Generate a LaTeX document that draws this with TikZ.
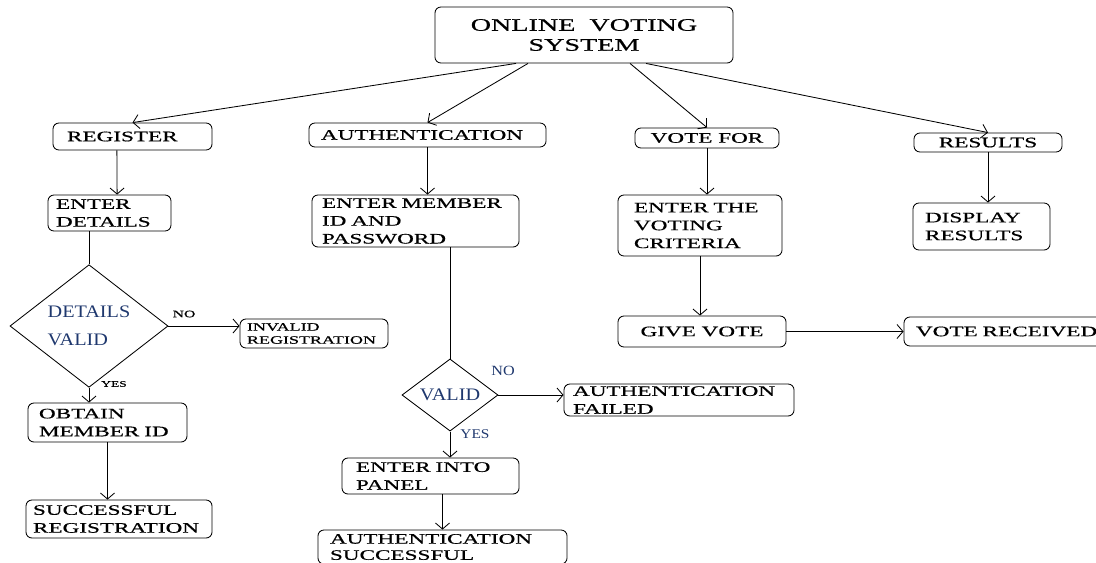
\documentclass[tikz,border=0pt]{standalone}
\usepackage{fontspec}
\usepackage{tikz}
\usetikzlibrary{arrows.meta, shapes.geometric}

\newfontfamily\boxfont{Liberation Serif}[FakeStretch=1.6, FakeBold=0.6]
\newfontfamily\askfont{Liberation Serif}[FakeStretch=1.15]
\definecolor{asknavy}{RGB}{31,56,110}
\hyphenpenalty=10000
\exhyphenpenalty=10000

\tikzset{
  box/.style={draw, line width=0.6pt, rounded corners=1.5mm, inner ysep=1pt, align=left,
    font=\boxfont\fontsize{10.3}{12.7}\selectfont},
  ask/.style={draw, line width=0.6pt, diamond, inner sep=0pt, align=left, text=asknavy},
  arr/.style={line width=0.6pt, -{Straight Barb[length=1.5mm,width=3.5mm]}},
  link/.style={line width=0.6pt},
  lbl/.style={inner sep=0pt}
}

\begin{document}
\begin{tikzpicture}[x=0.025cm, y=-0.025cm]
\useasboundingbox (0,0) rectangle (1096,562);
%% top
\node[box, align=center, minimum width=7.45cm, minimum height=1.4cm,
  font=\boxfont\fontsize{12.5}{14.2}\selectfont] (sys) at (584,35) {ONLINE\ \ VOTING\\SYSTEM};
%% first row
\node[box, text width=3.275cm, inner xsep=0.35cm, minimum height=0.675cm] (reg) at (132.5,136.5) {REGISTER};
\node[box, text width=5.325cm, inner xsep=0.3cm, minimum height=0.6cm] (auth) at (427.5,135) {AUTHENTICATION};
\node[box, align=center, minimum width=3.6cm, minimum height=0.5cm] (vote) at (707,138) {VOTE FOR};
\node[box, align=center, minimum width=3.7cm, minimum height=0.475cm] (res) at (988,142.5) {RESULTS};
%% second row
\node[box, text width=2.675cm, inner xsep=0.2cm, minimum height=0.9cm] (det) at (109.5,213) {ENTER\\DETAILS};
\node[box, text width=4.675cm, inner xsep=0.25cm, minimum height=1.3cm] (mem) at (415.5,221) {ENTER MEMBER\\ID AND\\PASSWORD};
\node[box, text width=3.3cm, inner xsep=0.4cm, minimum height=1.525cm] (crit) at (700,225.5) {ENTER THE\\VOTING\\CRITERIA};
\node[box, text width=2.825cm, inner xsep=0.3cm, minimum height=1.175cm] (disp) at (981.5,226.5) {DISPLAY\\RESULTS};
%% register branch
\node[ask, minimum width=3.95cm, minimum height=2.45cm,
  font=\askfont\fontsize{12.5}{20}\selectfont] (dv) at (89,326) {DETAILS\\VALID};
\node[box, text width=3.35cm, inner xsep=0.175cm, minimum height=0.725cm,
  font=\boxfont\fontsize{8}{9.3}\selectfont] (inv) at (314,333.5) {INVALID\\REGISTRATION};
\node[box, text width=3.425cm, inner xsep=0.275cm, minimum height=0.975cm] (obt) at (107.5,422.5) {OBTAIN\\MEMBER ID};
\node[box, text width=4.3cm, inner xsep=0.175cm, minimum height=0.95cm] (sreg) at (119,519) {SUCCESSFUL\\REGISTRATION};
\node[lbl, font=\boxfont\fontsize{7}{8}\selectfont] (no1) at (184,314) {NO};
\node[lbl, font=\boxfont\fontsize{6}{7}\selectfont] (yes1) at (114,384) {YES};
%% authentication branch
\node[ask, minimum width=2.4cm, minimum height=1.375cm,
  font=\askfont\fontsize{12.5}{15}\selectfont] (val) at (450,395) {VALID};
\node[box, text width=5.3cm, inner xsep=0.225cm, minimum height=0.8cm] (fail) at (679,400) {AUTHENTICATION\\FAILED};
\node[box, text width=3.725cm, inner xsep=0.35cm, minimum height=0.9cm] (pan) at (430.5,476) {ENTER INTO\\PANEL};
\node[box, text width=5.625cm, inner xsep=0.3cm, minimum height=0.85cm,
  font=\boxfont\fontsize{10.3}{11.5}\selectfont] (asucc) at (442.5,547) {AUTHENTICATION\\SUCCESSFUL};
\node[lbl, text=asknavy, font=\askfont\fontsize{10}{12}\selectfont] (no2) at (503,371) {NO};
\node[lbl, text=asknavy, font=\askfont\fontsize{9.5}{11}\selectfont] (yes2) at (475,434) {YES};
%% vote branch
\node[box, align=center, minimum width=4.2cm, minimum height=0.775cm] (give) at (702,331.5) {GIVE VOTE};
\node[box, text width=5.2cm, inner xsep=0.3cm, minimum height=0.725cm] (recv) at (1020,331.5) {VOTE RECEIVED};

%% arrows from top
\draw[arr] ([xshift=-1.7cm]sys.south) -- (reg.north);
\draw[arr] ([xshift=-1.4cm]sys.south) -- (auth.north);
\draw[arr] ([xshift=1.15cm]sys.south) -- (vote.north);
\draw[arr] ([xshift=1.55cm]sys.south) -- (res.north);
%% register
\draw[arr] ([xshift=-0.39cm]reg.south) -- ([xshift=0.19cm]det.north);
\draw[link] (dv.north |- det.south) -- (dv.north);
\draw[arr] (dv.east) -- (dv.east -| inv.west);
\draw[arr] (dv.south) -- (dv.south |- obt.north);
\draw[arr] (obt.south) -- (obt.south |- sreg.north);
%% authentication
\draw[arr] (auth.south) -- (auth.south |- mem.north);
\draw[link] (val.north |- mem.south) -- (val.north);
\draw[arr] (val.east) -- (val.east -| fail.west);
\draw[arr] (val.south) -- (val.south |- pan.north);
\draw[arr] (asucc.north |- pan.south) -- (asucc.north);
%% vote, results
\draw[arr] (vote.south) -- (vote.south |- crit.north);
\draw[arr] (crit.south) -- (crit.south |- give.north);
\draw[arr] (give.east) -- (give.east -| recv.west);
\draw[arr] (res.south) -- (res.south |- disp.north);
\end{tikzpicture}
\end{document}
